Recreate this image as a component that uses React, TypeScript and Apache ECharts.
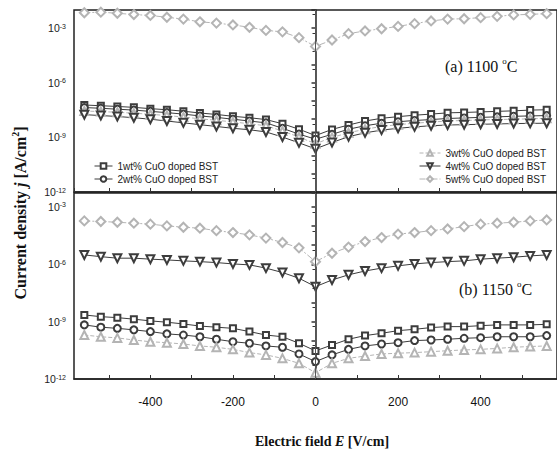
import React, { useEffect, useRef } from "react";
import * as echarts from "echarts";

// Electric field E [V/cm]
const fieldE = [-560, -520, -480, -440, -400, -360, -320, -280, -240, -200, -160, -120, -80, -40, 0, 40, 80, 120, 160, 200, 240, 280, 320, 360, 400, 440, 480, 520, 560];

// log10 of current density j [A/cm^2], panel (a) 1100 °C
const a1wt = [-7.22, -7.26, -7.3, -7.35, -7.42, -7.48, -7.56, -7.66, -7.74, -7.84, -7.92, -8.02, -8.25, -8.55, -8.9, -8.56, -8.32, -8.1, -7.95, -7.86, -7.78, -7.72, -7.65, -7.63, -7.6, -7.57, -7.54, -7.5, -7.48];
const a2wt = [-7.36, -7.4, -7.45, -7.5, -7.57, -7.64, -7.72, -7.82, -7.9, -8.0, -8.1, -8.2, -8.5, -8.82, -9.1, -8.83, -8.55, -8.36, -8.22, -8.14, -8.07, -8.02, -7.96, -7.93, -7.9, -7.87, -7.84, -7.82, -7.8];
const a3wt = [-7.55, -7.58, -7.62, -7.67, -7.73, -7.8, -7.88, -7.98, -8.06, -8.15, -8.25, -8.36, -8.65, -8.98, -9.35, -9.0, -8.75, -8.55, -8.4, -8.3, -8.22, -8.16, -8.1, -8.07, -8.04, -8.02, -8.0, -7.98, -7.95];
const a4wt = [-7.75, -7.8, -7.85, -7.92, -8.0, -8.1, -8.2, -8.3, -8.4, -8.5, -8.58, -8.7, -8.98, -9.3, -9.63, -9.28, -8.96, -8.75, -8.6, -8.5, -8.42, -8.36, -8.32, -8.3, -8.28, -8.26, -8.24, -8.23, -8.22];
const a5wt = [-2.15, -2.12, -2.18, -2.25, -2.3, -2.4, -2.5, -2.65, -2.72, -2.82, -2.95, -3.12, -3.2, -3.52, -4.0, -3.65, -3.3, -3.15, -3.03, -2.9, -2.75, -2.6, -2.5, -2.48, -2.42, -2.35, -2.27, -2.24, -2.2];

// log10 of current density j [A/cm^2], panel (b) 1150 °C
const b1wt = [-8.65, -8.74, -8.79, -8.87, -8.96, -9.03, -9.12, -9.23, -9.29, -9.35, -9.52, -9.7, -9.79, -10.13, -10.53, -10.22, -9.92, -9.73, -9.61, -9.47, -9.4, -9.31, -9.26, -9.26, -9.21, -9.17, -9.17, -9.17, -9.14];
const b2wt = [-9.17, -9.29, -9.35, -9.43, -9.52, -9.64, -9.7, -9.79, -9.92, -10.05, -10.13, -10.27, -10.34, -10.69, -11.09, -10.74, -10.45, -10.27, -10.17, -10.1, -9.99, -9.96, -9.92, -9.87, -9.84, -9.79, -9.79, -9.79, -9.73];
const b3wt = [-9.7, -9.79, -9.85, -9.96, -10.05, -10.1, -10.17, -10.27, -10.34, -10.45, -10.62, -10.74, -10.92, -11.18, -11.67, -11.18, -10.92, -10.8, -10.69, -10.65, -10.62, -10.57, -10.52, -10.48, -10.45, -10.4, -10.34, -10.3, -10.27];
const b4wt = [-5.51, -5.6, -5.68, -5.68, -5.73, -5.77, -5.82, -5.86, -5.91, -5.98, -6.03, -6.2, -6.43, -6.73, -7.17, -6.82, -6.55, -6.35, -6.2, -6.08, -5.98, -5.91, -5.86, -5.82, -5.73, -5.68, -5.63, -5.56, -5.51];
const b5wt = [-3.73, -3.76, -3.8, -3.85, -3.9, -3.99, -4.06, -4.11, -4.24, -4.34, -4.46, -4.63, -4.86, -5.14, -5.86, -5.42, -5.1, -4.81, -4.6, -4.42, -4.34, -4.24, -4.15, -4.03, -3.9, -3.85, -3.8, -3.73, -3.68];

const seriesNames = [
  "1wt% CuO doped BST",
  "2wt% CuO doped BST",
  "3wt% CuO doped BST",
  "4wt% CuO doped BST",
  "5wt% CuO doped BST",
];
const yTickExponents = [-3, -6, -9, -12];
const xTickLabels = [-400, -200, 0, 200, 400];

const DARK = "#3c3c3c";
const LIGHT = "#b4b4b4";

const styles = [
  { symbol: "emptyRect", size: 6, color: DARK, dash: "solid" as any, rotate: 0 },
  { symbol: "emptyCircle", size: 7, color: DARK, dash: "solid" as any, rotate: 0 },
  { symbol: "emptyTriangle", size: 8, color: LIGHT, dash: [4, 2] as any, rotate: 0 },
  { symbol: "emptyTriangle", size: 8, color: DARK, dash: "solid" as any, rotate: 180 },
  { symbol: "emptyDiamond", size: 9, color: LIGHT, dash: [6, 2, 2, 2] as any, rotate: 0 },
];

function toPairs(logs: number[]) {
  return fieldE.map((e, i) => [e, Math.pow(10, logs[i])]);
}

function makeSeries(idx: number, logs: number[], grid: number, withZeroLine: boolean) {
  const s = styles[idx];
  const out: any = {
    name: seriesNames[idx],
    type: "line",
    xAxisIndex: grid,
    yAxisIndex: grid,
    data: toPairs(logs),
    symbol: s.symbol,
    symbolSize: s.size,
    symbolRotate: s.rotate,
    lineStyle: { color: s.color, width: 1, type: s.dash },
    itemStyle: { color: s.color, borderColor: s.color, borderWidth: 1 },
    emphasis: { disabled: true },
  };
  if (withZeroLine) {
    out.markLine = {
      silent: true,
      symbol: "none",
      label: { show: false },
      lineStyle: { color: "#555", type: "solid", width: 1 },
      data: [{ xAxis: 0 }],
    };
  }
  return out;
}

function yLabel(v: number) {
  const e = Math.log10(v);
  const r = Math.round(e);
  if (Math.abs(e - r) > 1e-4) return "";
  if (yTickExponents.indexOf(r) < 0) return "";
  return "{b|10}{s|" + r + "}";
}

function xLabel(v: number) {
  return xTickLabels.indexOf(Math.round(v)) >= 0 && Math.abs(v - Math.round(v)) < 1e-6 ? String(Math.round(v)) : "";
}

const X_MIN = -585;
const X_MAX = 585;

function xAxisFor(grid: number, showLabels: boolean) {
  return {
    type: "value",
    gridIndex: grid,
    min: X_MIN,
    max: X_MAX,
    splitNumber: 12,
    axisLine: { show: true, onZero: false, lineStyle: { color: "#222", width: 1.5 } },
    axisTick: { show: true, inside: true, length: 4, lineStyle: { color: "#333" } },
    axisLabel: {
      show: showLabels,
      formatter: xLabel,
      fontFamily: "Liberation Sans",
      fontSize: 12,
      color: "#111",
      margin: 17,
      showMinLabel: false,
      showMaxLabel: false,
    },
    splitLine: { show: false },
  };
}

function yAxisFor(grid: number, maxExp: number) {
  return {
    type: "log",
    logBase: 10,
    gridIndex: grid,
    min: 1e-12,
    max: Math.pow(10, maxExp),
    splitNumber: 10,
    axisLine: { show: true, lineStyle: { color: "#222", width: 1.5 } },
    axisTick: { show: true, inside: false, length: 4, lineStyle: { color: "#333", width: 1.5 } },
    minorTick: { show: true, splitNumber: 2, length: 3, lineStyle: { color: "#333" } },
    axisLabel: {
      formatter: yLabel,
      margin: 8,
      showMinLabel: true,
      showMaxLabel: true,
      rich: {
        b: { fontFamily: "Liberation Sans", fontSize: 10.5, color: "#222", verticalAlign: "bottom", lineHeight: 11, padding: [5, 0, 0, 0] },
        s: { fontFamily: "Liberation Sans", fontSize: 7, color: "#222", verticalAlign: "top", lineHeight: 8 },
      },
    },
    splitLine: { show: false },
  };
}

export default function App() {
  const ref = useRef<HTMLDivElement>(null);

  useEffect(() => {
    if (!ref.current) return;
    const chart = echarts.init(ref.current, null, { renderer: "svg" });
    const legendText = { fontFamily: "Liberation Sans", fontSize: 10, color: "#222" };
    const legendCommon = {
      orient: "vertical",
      itemHeight: 7,
      itemGap: 3,
      textStyle: legendText,
      selectedMode: false,
      itemStyle: { borderWidth: 1 },
      lineStyle: { width: 1 },
    };
    const option: any = {
      animation: false,
      backgroundColor: "#ffffff",
      grid: [
        { left: 74, top: 10, width: 488, height: 182, show: true, borderColor: "#222", borderWidth: 1.5, backgroundColor: "transparent" },
        { left: 74, top: 193, width: 488, height: 186, show: true, borderColor: "#222", borderWidth: 1.5, backgroundColor: "transparent" },
      ],
      xAxis: [xAxisFor(0, false), xAxisFor(1, true)],
      yAxis: [yAxisFor(0, -2), yAxisFor(1, -2.27)],
      legend: [
        {
          ...legendCommon,
          data: [seriesNames[0], seriesNames[1]],
          left: 89,
          top: 156,
          itemWidth: 18,
        },
        {
          ...legendCommon,
          data: [seriesNames[2], seriesNames[3], seriesNames[4]],
          left: 414,
          top: 143,
          itemWidth: 21,
        },
      ],
      series: [
        makeSeries(0, a1wt, 0, true),
        makeSeries(1, a2wt, 0, false),
        makeSeries(2, a3wt, 0, false),
        makeSeries(3, a4wt, 0, false),
        makeSeries(4, a5wt, 0, false),
        makeSeries(0, b1wt, 1, true),
        makeSeries(1, b2wt, 1, false),
        makeSeries(2, b3wt, 1, false),
        makeSeries(3, b4wt, 1, false),
        makeSeries(4, b5wt, 1, false),
      ],
      graphic: [
        {
          type: "text",
          x: 19,
          y: 213,
          rotation: Math.PI / 2,
          style: {
            text: "{a|Current density }{i|j}{a| [A/cm}{s|2}{a|]}",
            align: "center",
            verticalAlign: "middle",
            rich: {
              a: { fontFamily: "Liberation Serif", fontWeight: "bold", fontSize: 16, fill: "#111", verticalAlign: "bottom", lineHeight: 18 },
              i: { fontFamily: "Liberation Serif", fontWeight: "bold", fontStyle: "italic", fontSize: 16, fill: "#111", verticalAlign: "bottom", lineHeight: 18 },
              s: { fontFamily: "Liberation Serif", fontWeight: "bold", fontSize: 10, fill: "#111", verticalAlign: "top", lineHeight: 10 },
            },
          },
        },
        {
          type: "text",
          x: 322,
          y: 441,
          style: {
            text: "{a|Electric field }{i|E}{a| [V/cm]}",
            align: "center",
            verticalAlign: "middle",
            rich: {
              a: { fontFamily: "Liberation Serif", fontWeight: "bold", fontSize: 14, fill: "#111" },
              i: { fontFamily: "Liberation Serif", fontWeight: "bold", fontStyle: "italic", fontSize: 14, fill: "#111" },
            },
          },
        },
        {
          type: "text",
          x: 445,
          y: 65,
          style: {
            text: "{t|(a) 1100 }{s|o}{t|C}",
            align: "left",
            verticalAlign: "middle",
            rich: {
              t: { fontFamily: "Liberation Serif", fontSize: 16, fill: "#111", verticalAlign: "bottom", lineHeight: 18 },
              s: { fontFamily: "Liberation Serif", fontSize: 9, fill: "#111", verticalAlign: "top", lineHeight: 9 },
            },
          },
        },
        {
          type: "text",
          x: 459,
          y: 288,
          style: {
            text: "{t|(b) 1150 }{s|o}{t|C}",
            align: "left",
            verticalAlign: "middle",
            rich: {
              t: { fontFamily: "Liberation Serif", fontSize: 16, fill: "#111", verticalAlign: "bottom", lineHeight: 18 },
              s: { fontFamily: "Liberation Serif", fontSize: 9, fill: "#111", verticalAlign: "top", lineHeight: 9 },
            },
          },
        },
      ],
    };
    chart.setOption(option);
    return () => chart.dispose();
  }, []);

  return (
    <div
      ref={ref}
      style={{ position: "fixed", left: 0, top: 0, width: 557, height: 461, background: "#ffffff", overflow: "hidden" }}
    />
  );
}
